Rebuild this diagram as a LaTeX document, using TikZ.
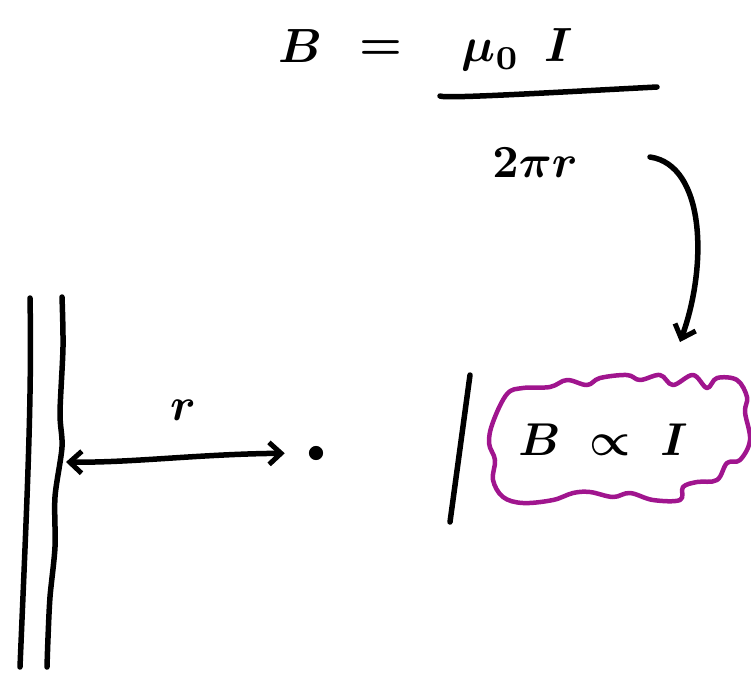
\documentclass[tikz,border=0pt]{standalone}
\usepackage{graphicx}
\usetikzlibrary{arrows.meta}
\definecolor{cloudpurple}{HTML}{A0158E}
\newcommand{\bigmath}[1]{\scalebox{4.8}{\boldmath$#1$}}
\newcommand{\midmath}[1]{\scalebox{4.6}{\boldmath$#1$}}
\begin{document}
\begin{tikzpicture}[x=1pt,y=-1pt,
  ink/.style={line width=5.5pt,line cap=round,line join=round},
  barb/.style={Straight Barb[length=12pt,width=22pt,line width=5pt]},
  tip/.style={-{Straight Barb[length=12pt,width=22pt,line width=5pt]}}]
\useasboundingbox (0,0) rectangle (751,678);
% formula
\node (B) at (300,46) {\bigmath{B}};
\node (eq) at (381,50) {\bigmath{=}};
\node (num) at (517,50) {\bigmath{\mu_{0}\;\,I}};
\coordinate (barL) at (440,96);
\coordinate (barR) at (657,87);
\draw[ink] (barL) .. controls (445,99) and (560,92) .. (barR);
\node (den) at (535,163) {\midmath{2\pi r}};
% curved arrow
\coordinate (cs) at (650,157);
\coordinate (ce) at (680,342);
\draw[ink,tip] (cs) .. controls (705,165) and (708,265) .. (ce);
% wire
\draw[ink] (30,298) .. controls (32,400) and (27,500) .. (20,667);
\draw[ink] plot[smooth] coordinates {(62,297) (63,347) (60,413) (62,447) (55,497) (55,547) (50,597) (48,638) (47,667)};
% distance r
\node[circle,fill=black,inner sep=5pt] (dot) at (316,453) {};
\coordinate (wireR) at (66,462);
\draw[ink,{Straight Barb[length=12pt,width=22pt,line width=5pt]}-{Straight Barb[length=12pt,width=22pt,line width=5pt]},shorten >=24pt]
  (wireR) .. controls (130,463) and (200,454) .. (dot);
\node (rl) at (183,410) {\midmath{r}};
% right part
\draw[ink] (470,375) -- (450,522);
\draw[cloudpurple,line width=4.5pt,line join=round] plot[smooth cycle,tension=0.6] coordinates {
 (493,422) (507,394) (523,388) (550,387) (567,380) (587,385) (600,378) (627,375) (640,380) (660,375) (673,385) (693,375) (707,388) (717,378) (737,380) (747,397) (745,412) (750,440) (740,460) (727,463) (717,480) (697,482) (683,487) (680,500) (653,500) (630,493) (613,497) (590,492) (573,493) (553,500) (523,503) (503,497) (493,480) (495,460) (489,443)};
\node (prop) at (603,440) {\midmath{B\;\propto\;I}};
\end{tikzpicture}
\end{document}
